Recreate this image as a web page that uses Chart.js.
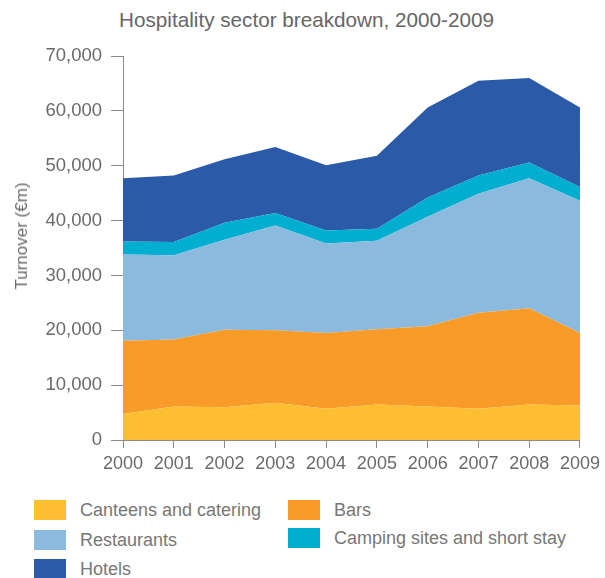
<!DOCTYPE html>
<html>
<head>
<meta charset="utf-8">
<script src="https://cdn.jsdelivr.net/npm/chart.js@4"></script>
<style>
  body { margin: 0; background: #fff; font-family: "Liberation Sans", Arial, sans-serif; }
  #wrap { position: relative; width: 605px; height: 578px; overflow: hidden; }
  #title { position: absolute; left: 0; width: 613px; top: 7px; text-align: center; font-size: 20.7px; color: #666; line-height: 25px; }
  #ytitle { position: absolute; left: 22px; top: 236px; transform: translate(-50%, -50%) rotate(-90deg); font-size: 17px; color: #6a6a6a; white-space: nowrap; }
  #chart { position: absolute; left: 0; top: 0; }
  .lg { position: absolute; font-size: 18px; color: #777; line-height: 20px; white-space: nowrap; }
  .lg span { display: inline-block; width: 32px; height: 20px; vertical-align: top; margin-right: 14px; }
</style>
</head>
<body>
<div id="wrap">
  <div id="title">Hospitality sector breakdown, 2000-2009</div>
  <canvas id="chart" width="605" height="480"></canvas>
  <div id="ytitle">Turnover (€m)</div>
  <div id="legend"></div>
</div>
<script>
'use strict';

// années
var years = ['2000', '2001', '2002', '2003', '2004', '2005', '2006', '2007', '2008', '2009'];

// chiffre d'affaires (M€) par secteur
var canteens    = [4750, 6100, 5950, 6800, 5700, 6450, 6100, 5700, 6450, 6300];
var bars        = [13350, 12200, 14150, 13200, 13800, 13750, 14650, 17500, 17550, 13200];
var restaurants = [15700, 15400, 16400, 19100, 16300, 16100, 19950, 21700, 23700, 24100];
var camping     = [2400, 2400, 3100, 2300, 2400, 2200, 3500, 3300, 2900, 2500];
var hotels      = [11500, 12100, 11600, 12000, 11900, 13300, 16400, 17300, 15400, 14500];

var yTicks = [0, 10000, 20000, 30000, 40000, 50000, 60000, 70000];

var series = [
  { label: 'Canteens and catering', data: canteens, color: '#FDBE31', fill: 'origin', lx: 34, ly: 500 },
  { label: 'Bars', data: bars, color: '#F89B29', fill: '-1', lx: 288, ly: 500 },
  { label: 'Restaurants', data: restaurants, color: '#8CBADF', fill: '-1', lx: 34, ly: 530 },
  { label: 'Camping sites and short stay', data: camping, color: '#00AECF', fill: '-1', lx: 288, ly: 528 },
  { label: 'Hotels', data: hotels, color: '#2B5BA8', fill: '-1', lx: 34, ly: 559 }
];

var datasets = series.map(function(s) {
  return {
    label: s.label,
    data: s.data,
    backgroundColor: s.color,
    borderColor: s.color,
    borderWidth: 0,
    pointRadius: 0,
    tension: 0,
    fill: s.fill
  };
});

// légende en HTML
var legend = document.getElementById('legend');
series.forEach(function(s) {
  var d = document.createElement('div');
  d.className = 'lg';
  d.style.left = s.lx + 'px';
  d.style.top = s.ly + 'px';
  d.innerHTML = '<span style="background:' + s.color + '"></span>' + s.label;
  legend.appendChild(d);
});

var axisColor = '#8a8a8a';
var textColor = '#6a6a6a';

new Chart(document.getElementById('chart').getContext('2d'), {
  type: 'line',
  data: { labels: years, datasets: datasets },
  options: {
    responsive: false,
    animation: false,
    layout: { padding: { top: 56, right: 20, left: 0, bottom: 0 } },
    plugins: { legend: { display: false }, tooltip: { enabled: false } },
    scales: {
      x: {
        offset: false,
        grid: { drawOnChartArea: false, drawTicks: true, tickLength: 8, color: axisColor },
        border: { color: axisColor, width: 1 },
        ticks: { color: textColor, font: { family: 'Liberation Sans', size: 18 }, padding: 5, maxRotation: 0, autoSkip: false },
        afterFit: function(scale) { scale.height = 40; }
      },
      y: {
        stacked: true,
        min: 0,
        max: 70000,
        afterBuildTicks: function(scale) {
          scale.ticks = yTicks.map(function(v) { return { value: v }; });
        },
        grid: { drawOnChartArea: false, drawTicks: true, tickLength: 12, color: axisColor },
        border: { color: axisColor, width: 1 },
        ticks: {
          color: textColor,
          font: { family: 'Liberation Sans', size: 18.5 },
          padding: 9,
          callback: function(v) { return v.toLocaleString('en-US'); }
        },
        afterFit: function(scale) { scale.width = 123; }
      }
    }
  }
});
</script>
</body>
</html>
